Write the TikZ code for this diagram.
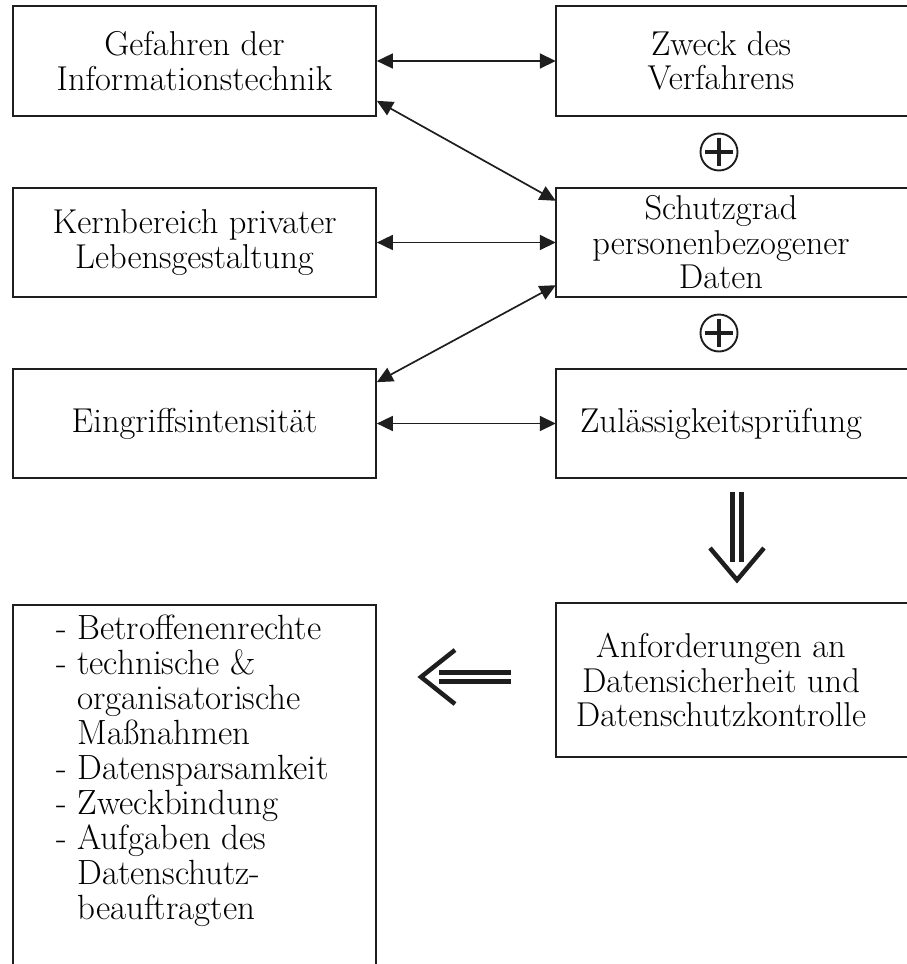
\documentclass[tikz,border=0pt]{standalone}
\usetikzlibrary{arrows.meta,calc}
\definecolor{ink}{HTML}{1E1E1E}
\begin{document}
\begin{tikzpicture}[x=1pt,y=-1pt,
  txt/.style={inner sep=0pt, align=center, font=\fontsize{34.5}{34.5}\selectfont, text=black},
  box/.style={txt, draw=ink, line width=1.7pt},
  frame/.style={draw=ink, line width=1.7pt},
  link/.style={draw=ink, line width=1.7pt,
    {Triangle[length=16pt,width=15pt]}-{Triangle[length=16pt,width=15pt]}},
  bar/.style={draw=ink, line width=5pt},
  chev/.style={draw=ink, line width=4.5pt, miter limit=10},
  plus/.style={circle, draw=ink, line width=1.9pt, minimum size=37pt, inner sep=0pt,
    path picture={
      \draw[ink, line width=4.2pt] ([xshift=-14pt]path picture bounding box.center) -- ([xshift=14pt]path picture bounding box.center);
      \draw[ink, line width=4.2pt] ([yshift=-14pt]path picture bounding box.center) -- ([yshift=14pt]path picture bounding box.center);
    }}]
\useasboundingbox (0,0) rectangle (906,964);

% left column
\node[box, minimum width=363pt, minimum height=110pt] (gef) at (194.5,61) {Gefahren der\\Informationstechnik};
\node[box, minimum width=363pt, minimum height=109pt] (kern) at (194.5,242.5) {Kernbereich privater\\Lebensgestaltung};
\node[box, minimum width=363pt, minimum height=109pt] (eing) at (194.5,423.5) {Eingriffsintensität};

% right column (boxes run past the right edge of the page)
\node[txt, minimum width=330pt, minimum height=110pt] (zweck) at (721,61) {Zweck des\\Verfahrens};
\node[txt, minimum width=330pt, minimum height=109pt] (schutz) at (721,242.5) {Schutzgrad\\personenbezogener\\Daten};
\node[txt, minimum width=330pt, minimum height=109pt] (zul) at (721,423.5) {Zulässigkeitsprüfung};
\node[txt, minimum width=330pt, minimum height=154pt] (anf) at (721,680) {Anforderungen an\\Datensicherheit und\\Datenschutzkontrolle};
\foreach \n in {zweck,schutz,zul,anf}
  \draw[frame] (\n.north west) rectangle ([xshift=40pt]\n.south east);

% bottom left list box (open at the bottom of the page)
\node[box, minimum width=363pt, minimum height=375pt] (list) at (194.5,792.5) {};
\node[anchor=north west, inner sep=0pt, align=left, text=black,
  font=\fontsize{35}{35}\selectfont] (listtext) at (56,615)
  {- Betroffenenrechte\\
   - technische \&\\
   \phantom{- }organisatorische\\
   \phantom{- }Maßnahmen\\
   - Datensparsamkeit\\
   - Zweckbindung\\
   - Aufgaben des\\
   \phantom{- }Datenschutz-\\
   \phantom{- }beauftragten};

% plus signs
\node[plus] (p1) at (719,152) {};
\node[plus] (p2) at (719,333) {};

% connectors
\draw[link] (gef.east) -- (zweck.west);
\draw[link] (kern.east) -- (schutz.west);
\draw[link] (eing.east) -- (zul.west);
\draw[link] ([yshift=16pt]gef.south east) -- ([yshift=-13pt]schutz.north west);
\draw[link] ([yshift=12pt]schutz.south west) -- ([yshift=-14pt]eing.north east);

% double arrow down
\coordinate (dtip) at (737,580);
\draw[bar] ($(dtip)+(-4.5,-88)$) -- ($(dtip)+(-4.5,-18)$);
\draw[bar] ($(dtip)+(4.5,-88)$) -- ($(dtip)+(4.5,-18)$);
\draw[chev] ($(dtip)+(-27,-32)$) -- (dtip) -- ($(dtip)+(27,-32)$);

% double arrow left
\coordinate (ltip) at (421,677);
\draw[bar] ($(ltip)+(18,-4.8)$) -- ($(ltip)+(90,-4.8)$);
\draw[bar] ($(ltip)+(18,4.8)$) -- ($(ltip)+(90,4.8)$);
\draw[chev] ($(ltip)+(34,-27)$) -- (ltip) -- ($(ltip)+(34,27)$);
\end{tikzpicture}
\end{document}
